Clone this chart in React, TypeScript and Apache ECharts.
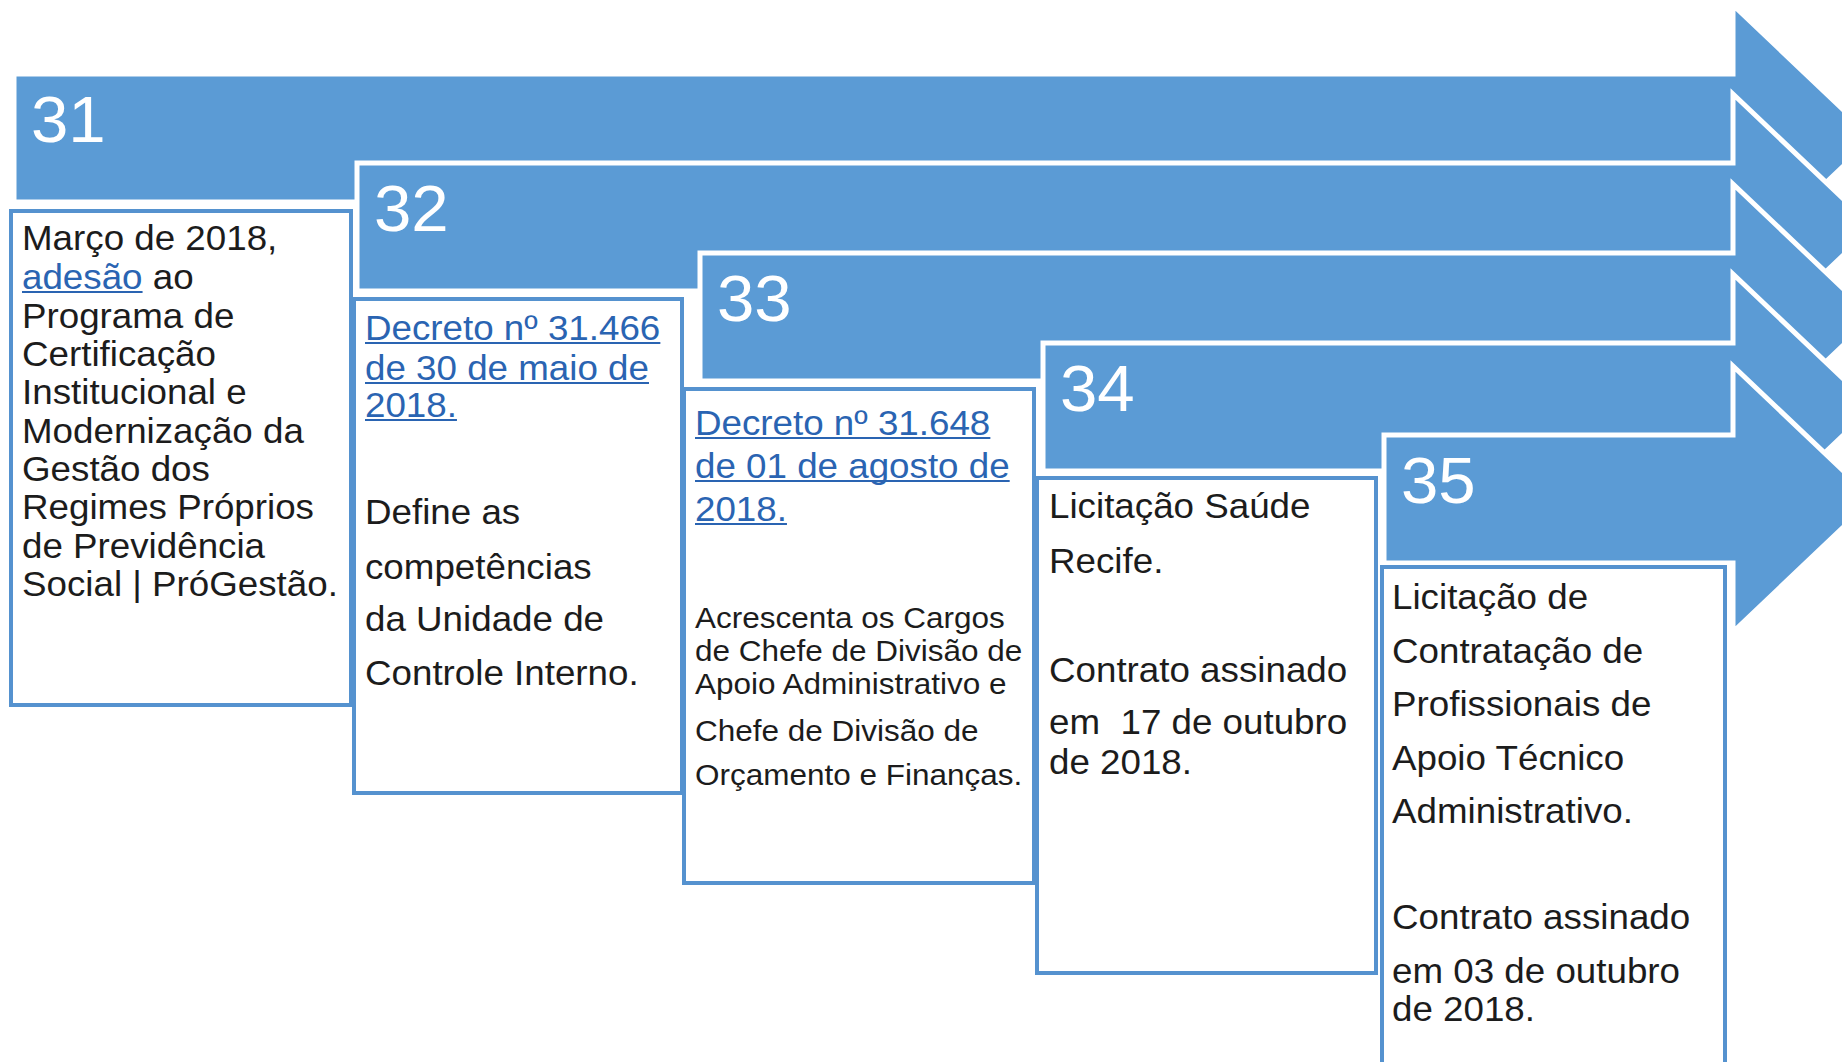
import React, { useEffect, useRef } from 'react';
import * as echarts from 'echarts';

// ---- content ----
const stepNumbers = ['31', '32', '33', '34', '35'];

type Seg = { t: string; link?: boolean };

const box31Lines: Seg[][] = [
  [{ t: 'Março de 2018,' }],
  [{ t: 'adesão', link: true }, { t: ' ao' }],
  [{ t: 'Programa de' }],
  [{ t: 'Certificação' }],
  [{ t: 'Institucional e' }],
  [{ t: 'Modernização da' }],
  [{ t: 'Gestão dos' }],
  [{ t: 'Regimes Próprios' }],
  [{ t: 'de Previdência' }],
  [{ t: 'Social | PróGestão.' }],
];
const box32Lines: Seg[][] = [
  [{ t: 'Decreto nº 31.466', link: true }],
  [{ t: 'de 30 de maio de', link: true }],
  [{ t: '2018.', link: true }],
  [{ t: 'Define as' }],
  [{ t: 'competências' }],
  [{ t: 'da Unidade de' }],
  [{ t: 'Controle Interno.' }],
];
const box33Lines: Seg[][] = [
  [{ t: 'Decreto nº 31.648', link: true }],
  [{ t: 'de 01 de agosto de', link: true }],
  [{ t: '2018.', link: true }],
  [{ t: 'Acrescenta os Cargos' }],
  [{ t: 'de Chefe de Divisão de' }],
  [{ t: 'Apoio Administrativo e' }],
  [{ t: 'Chefe de Divisão de' }],
  [{ t: 'Orçamento e Finanças.' }],
];
const box34Lines: Seg[][] = [
  [{ t: 'Licitação Saúde' }],
  [{ t: 'Recife.' }],
  [{ t: 'Contrato assinado' }],
  [{ t: 'em \u00a017 de outubro' }],
  [{ t: 'de 2018.' }],
];
const box35Lines: Seg[][] = [
  [{ t: 'Licitação de' }],
  [{ t: 'Contratação de' }],
  [{ t: 'Profissionais de' }],
  [{ t: 'Apoio Técnico' }],
  [{ t: 'Administrativo.' }],
  [{ t: 'Contrato assinado' }],
  [{ t: 'em 03 de outubro' }],
  [{ t: 'de 2018.' }],
];
const boxLines = [box31Lines, box32Lines, box33Lines, box34Lines, box35Lines];

// ---- layout (positions / sizes / styles) ----
const W = 1842;
const H = 1062;
const arrowLeft = [14, 357, 700, 1043, 1384];
const arrowTop = [74, 163, 253, 343, 435];
const arrowHeight = 128;
const shaftEnd = 1733;
const headExtra = 69;
const headSlope = 0.95;

const boxLeft = [9, 352, 682, 1035, 1380];
const boxTop = [209, 297, 387, 476, 565];
const boxRight = [353, 684, 1036, 1378, 1727];
const boxHeight = [498, 498, 498, 499, 540];

const textX = [22, 365, 695, 1049, 1392];
const lineY = [
  [238, 277, 316, 354, 392, 431, 469, 507, 546, 584],
  [328, 368, 405, 512, 567, 619, 673],
  [423, 466, 509, 618, 651, 684, 731, 775],
  [506, 561, 670, 722, 762],
  [597, 651, 704, 758, 811, 917, 971, 1009],
];
const lineSize = [
  [35, 35, 35, 35, 35, 35, 35, 35, 35, 35],
  [35, 35, 35, 35, 35, 35, 35],
  [35, 35, 35, 30, 30, 30, 30, 30],
  [35, 35, 35, 35, 35],
  [35, 35, 35, 35, 35, 35, 35, 35],
];

const BLUE = '#5b9bd5';
const BORDER = '#5592cf';
const TEXT = '#1c1c1c';
const LINK = '#2a64b2';
const FONT = 'Liberation Sans';
const SX = 1.05;

let measureCtx: CanvasRenderingContext2D | null = null;
function measure(t: string, size: number): number {
  if (!measureCtx) measureCtx = document.createElement('canvas').getContext('2d');
  if (!measureCtx) return t.length * size * 0.5;
  measureCtx.font = `${size}px "${FONT}"`;
  return measureCtx.measureText(t).width;
}

function buildElements() {
  const els: any[] = [];
  // arrows
  stepNumbers.forEach((num, i) => {
    const L = arrowLeft[i];
    const T = arrowTop[i];
    const B = T + arrowHeight;
    const C = (T + B) / 2;
    const half = C - (T - headExtra);
    const tip = shaftEnd + half / headSlope;
    els.push({
      type: 'polygon',
      silent: true,
      z: 10 + i * 2,
      shape: {
        points: [
          [L, T],
          [shaftEnd, T],
          [shaftEnd, T - headExtra],
          [tip, C],
          [shaftEnd, B + headExtra],
          [shaftEnd, B],
          [L, B],
        ],
      },
      style: { fill: BLUE, stroke: '#ffffff', lineWidth: 5, lineJoin: 'miter' },
    });
    els.push({
      type: 'text',
      silent: true,
      z: 11 + i * 2,
      x: L + 17,
      y: T + 46,
      scaleX: SX,
      style: {
        text: num,
        fontSize: 64,
        fontFamily: FONT,
        fill: '#ffffff',
        verticalAlign: 'middle',
        textVerticalAlign: 'middle',
      },
    });
  });
  // boxes
  boxLines.forEach((lines, i) => {
    const x0 = boxLeft[i];
    const y0 = boxTop[i];
    const w = boxRight[i] - x0;
    els.push({
      type: 'rect',
      silent: true,
      z: 30 + i * 3,
      shape: { x: x0 + 2, y: y0 + 2, width: w - 4, height: boxHeight[i] - 4 },
      style: { fill: '#ffffff', stroke: BORDER, lineWidth: 4 },
    });
    lines.forEach((segs, j) => {
      const size = lineSize[i][j];
      const y = lineY[i][j];
      let x = textX[i];
      segs.forEach((s) => {
        const wText = measure(s.t, size) * SX;
        els.push({
          type: 'text',
          silent: true,
          z: 31 + i * 3,
          x,
          y,
          scaleX: SX,
          style: {
            text: s.t,
            fontSize: size,
            fontFamily: FONT,
            fill: s.link ? LINK : TEXT,
            verticalAlign: 'middle',
            textVerticalAlign: 'middle',
          },
        });
        if (s.link) {
          const uy = y + Math.round(size * 0.44);
          els.push({
            type: 'line',
            silent: true,
            z: 32 + i * 3,
            shape: { x1: x, y1: uy, x2: x + wText, y2: uy },
            style: { stroke: LINK, lineWidth: 2 },
          });
        }
        x += wText;
      });
    });
  });
  return els;
}

export default function App() {
  const ref = useRef<HTMLDivElement>(null);
  useEffect(() => {
    if (!ref.current) return;
    const chart = echarts.init(ref.current, null, { renderer: 'svg', width: W, height: H });
    chart.setOption({
      animation: false,
      backgroundColor: '#ffffff',
      graphic: { elements: buildElements() },
    });
    return () => chart.dispose();
  }, []);
  return (
    <div
      ref={ref}
      style={{ position: 'fixed', left: 0, top: 0, width: W, height: H, background: '#fff' }}
    />
  );
}
